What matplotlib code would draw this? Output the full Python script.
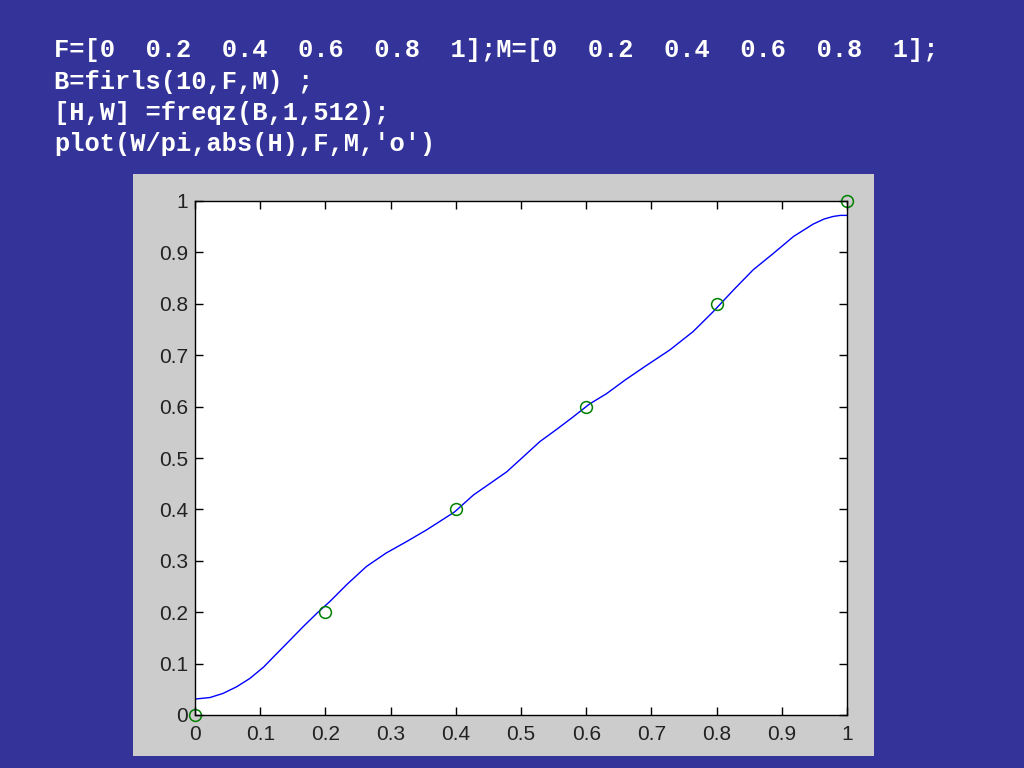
import numpy as np
import matplotlib
matplotlib.use("Agg")
import matplotlib.pyplot as plt

# design points F, M
F = [0, 0.2, 0.4, 0.6, 0.8, 1]
M = [0, 0.2, 0.4, 0.6, 0.8, 1]

# |H|
w = [0.0, 0.023, 0.043, 0.064, 0.084, 0.105, 0.125, 0.146, 0.166, 0.187, 0.207,
     0.233, 0.263, 0.293, 0.324, 0.355, 0.376, 0.398, 0.427, 0.452, 0.478,
     0.504, 0.529, 0.555, 0.580, 0.605, 0.631, 0.660, 0.690, 0.728, 0.764,
     0.795, 0.826, 0.856, 0.887, 0.918, 0.948, 0.965, 0.979, 0.990, 1.0]
h = [0.031, 0.034, 0.042, 0.055, 0.071, 0.093, 0.119, 0.146, 0.172, 0.198, 0.221,
     0.254, 0.289, 0.315, 0.337, 0.360, 0.377, 0.395, 0.428, 0.450, 0.473,
     0.503, 0.532, 0.556, 0.580, 0.605, 0.625, 0.652, 0.678, 0.710, 0.746,
     0.785, 0.827, 0.866, 0.898, 0.931, 0.955, 0.965, 0.970, 0.972, 0.972]

code = ["F=[0  0.2  0.4  0.6  0.8  1];M=[0  0.2  0.4  0.6  0.8  1];",
        "B=firls(10,F,M) ;",
        "[H,W] =freqz(B,1,512);",
        "plot(W/pi,abs(H),F,M,'o')"]

bg = "#333399"
fig = plt.figure(figsize=(10.24, 7.68), dpi=100, facecolor=bg)

# grey matlab figure window
win = fig.add_axes([133/1024, 12/768, 741/1024, 582/768], zorder=0)
win.set_facecolor("#cccccc")
win.set_xticks([])
win.set_yticks([])
for s in win.spines.values():
    s.set_visible(False)

for i, line in enumerate(code):
    fig.text(54/1024, 1 - (50 + i*31.5)/768, line, color="white",
             family="Liberation Mono", weight="bold", fontsize=18.3,
             va="center", ha="left")

ax = fig.add_axes([195/1024, 53/768, 652/1024, 514/768], zorder=1)
ax.plot(w, h, color="#0000ff", lw=1.0)
ax.plot(F, M, "o", mfc="none", mec="#008000", ms=8.5, mew=1.1, clip_on=False)

ax.set_xlim(0, 1)
ax.set_ylim(0, 1)
ax.set_xticks(np.arange(0, 1.01, 0.1))
ax.set_yticks(np.arange(0, 1.01, 0.1))
ax.set_xticklabels(["0", "0.1", "0.2", "0.3", "0.4", "0.5", "0.6", "0.7", "0.8", "0.9", "1"])
ax.set_yticklabels(["0", "0.1", "0.2", "0.3", "0.4", "0.5", "0.6", "0.7", "0.8", "0.9", "1"])
ax.tick_params(direction="in", length=6, width=1, top=True, right=True,
               labelsize=15, colors="black")
ax.tick_params(axis="x", pad=7)
ax.tick_params(axis="y", pad=5)
for lab in ax.get_xticklabels() + ax.get_yticklabels():
    lab.set_family("Liberation Sans")
    lab.set_color("#222222")
for s in ax.spines.values():
    s.set_linewidth(1)
ax.set_facecolor("white")

fig.savefig("out.png", dpi=100, facecolor=bg)
